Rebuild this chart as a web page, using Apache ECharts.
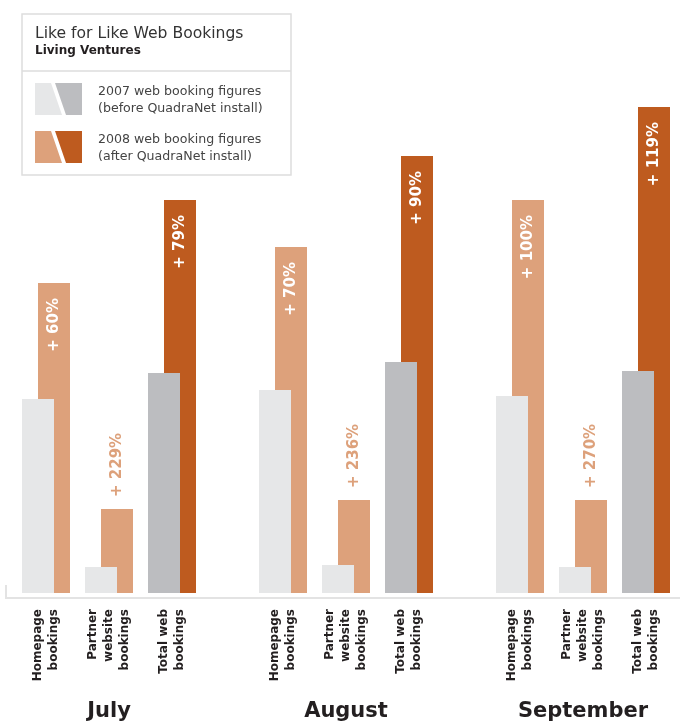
<!DOCTYPE html>
<html>
<head>
<meta charset="utf-8">
<script src="https://cdn.jsdelivr.net/npm/echarts@6/dist/echarts.min.js"></script>
<style>
  html, body { margin: 0; padding: 0; background: #fff; }
  #main { width: 680px; height: 722px; }
</style>
</head>
<body>
<div id="main"></div>
<script>
    var months = ['July', 'August', 'September'];
    var categories = ['Homepage\nbookings', 'Partner\nwebsite\nbookings', 'Total web\nbookings'];

    // bookings
    var july2007 = [194, 26, 220];
    var july2008 = [310, 84, 393];
    var august2007 = [203, 28, 231];
    var august2008 = [346, 93, 437];
    var september2007 = [197, 26, 222];
    var september2008 = [393, 93, 486];

    // growth labels (%)
    var julyGrowth = [60, 229, 79];
    var augustGrowth = [70, 236, 90];
    var septemberGrowth = [100, 270, 119];

    var values2007 = [july2007, august2007, september2007];
    var values2008 = [july2008, august2008, september2008];
    var growth = [julyGrowth, augustGrowth, septemberGrowth];

    var colors2007 = ['#E6E7E8', '#E6E7E8', '#BCBDC0'];
    var colors2008 = ['#DDA17B', '#DDA17B', '#BE5B1F'];
    var font = 'DejaVu Sans';

    var chart = echarts.init(document.getElementById('main'));

    var gridLefts = [14.5, 251.5, 488.5];
    var grids = [], xAxes = [], yAxes = [], series = [];

    months.forEach(function (month, m) {
        grids.push({
            left: gridLefts[m],
            width: 189,
            top: 93,
            bottom: 129,
            outerBoundsMode: 'none'
        });
        xAxes.push({
            type: 'category',
            gridIndex: m,
            data: categories,
            name: month,
            nameLocation: 'middle',
            nameGap: 108,
            nameTextStyle: {
                fontFamily: font,
                fontWeight: 'bold',
                fontSize: 21,
                color: '#231F20'
            },
            axisLine: { show: false },
            axisTick: { show: false },
            axisLabel: {
                rotate: 90,
                margin: 16,
                interval: 0,
                fontFamily: font,
                fontWeight: 'bold',
                fontSize: 12,
                lineHeight: 16,
                color: '#231F20'
            }
        });
        yAxes.push({
            type: 'value',
            gridIndex: m,
            min: 0,
            max: 500,
            show: false,
            splitLine: { show: false }
        });
        series.push({
            name: '2007',
            type: 'bar',
            xAxisIndex: m,
            yAxisIndex: m,
            barWidth: 32,
            barGap: '-50%',
            z: 3,
            silent: true,
            data: values2007[m].map(function (v, i) {
                return { value: v, itemStyle: { color: colors2007[i] } };
            })
        });
        series.push({
            name: '2008',
            type: 'bar',
            xAxisIndex: m,
            yAxisIndex: m,
            barWidth: 32,
            barGap: '-50%',
            z: 2,
            silent: true,
            data: values2008[m].map(function (v, i) {
                var inside = i !== 1;
                return {
                    value: v,
                    itemStyle: { color: colors2008[i] },
                    label: {
                        show: true,
                        formatter: '+ ' + growth[m][i] + '%',
                        position: inside ? 'insideTop' : 'top',
                        distance: inside ? 15 : 12,
                        rotate: 90,
                        align: inside ? 'right' : 'left',
                        verticalAlign: 'middle',
                        fontFamily: font,
                        fontWeight: 'bold',
                        fontSize: 15,
                        color: inside ? '#FFFFFF' : '#DDA17B'
                    }
                };
            })
        });
    });

    var legendText = {
        fontFamily: font,
        fontSize: 12.6,
        fill: '#444444'
    };

    chart.setOption({
        animation: false,
        grid: grids,
        xAxis: xAxes,
        yAxis: yAxes,
        series: series,
        graphic: [
            // baseline
            {
                type: 'polyline',
                shape: { points: [[6, 585], [6, 598], [680, 598]] },
                style: { stroke: '#E3E3E3', lineWidth: 2, fill: null }
            },
            // legend box
            {
                type: 'rect',
                shape: { x: 22, y: 14, width: 269, height: 161 },
                style: { fill: '#FFFFFF', stroke: '#DDDDDD', lineWidth: 1.5 },
                z: 10
            },
            {
                type: 'line',
                shape: { x1: 22, y1: 71, x2: 291, y2: 71 },
                style: { stroke: '#DDDDDD', lineWidth: 1.5 },
                z: 11
            },
            {
                type: 'text', x: 35, y: 34, z: 11,
                style: { text: 'Like for Like Web Bookings', fontFamily: font, fontSize: 15.6, fill: '#333333', verticalAlign: 'middle' }
            },
            {
                type: 'text', x: 35, y: 51, z: 11,
                style: { text: 'Living Ventures', fontFamily: font, fontSize: 12, fontWeight: 'bold', fill: '#231F20', verticalAlign: 'middle' }
            },
            {
                type: 'polygon', z: 11,
                shape: { points: [[35, 83], [51, 83], [62, 115], [35, 115]] },
                style: { fill: '#E6E7E8' }
            },
            {
                type: 'polygon', z: 11,
                shape: { points: [[55, 83], [82, 83], [82, 115], [66, 115]] },
                style: { fill: '#BCBDC0' }
            },
            {
                type: 'polygon', z: 11,
                shape: { points: [[35, 131], [51, 131], [62, 163], [35, 163]] },
                style: { fill: '#DDA17B' }
            },
            {
                type: 'polygon', z: 11,
                shape: { points: [[55, 131], [82, 131], [82, 163], [66, 163]] },
                style: { fill: '#BE5B1F' }
            },
            {
                type: 'text', x: 98, y: 100.5, z: 11,
                style: Object.assign({ text: '2007 web booking figures\n(before QuadraNet install)', lineHeight: 17, verticalAlign: 'middle' }, legendText)
            },
            {
                type: 'text', x: 98, y: 148.5, z: 11,
                style: Object.assign({ text: '2008 web booking figures\n(after QuadraNet install)', lineHeight: 17, verticalAlign: 'middle' }, legendText)
            }
        ]
    });
</script>
</body>
</html>
